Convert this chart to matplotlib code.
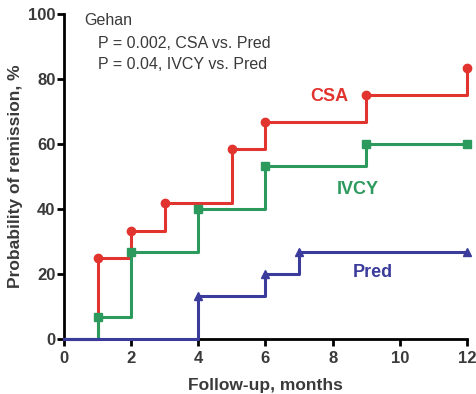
import matplotlib.pyplot as plt

# Kaplan-Meier style step data (time in months, cumulative % in remission)
csa_t = [0, 1, 2, 3, 5, 6, 9, 12]
csa_p = [0, 25.0, 33.3, 41.7, 58.3, 66.7, 75.0, 83.3]

ivcy_t = [0, 1, 2, 4, 6, 9, 12]
ivcy_p = [0, 6.7, 26.7, 40.0, 53.3, 60.0, 60.0]

pred_t = [0, 4, 6, 7, 12]
pred_p = [0, 13.3, 20.0, 26.7, 26.7]

red = '#e2342f'
green = '#2b9a5c'
blue = '#3b3b9c'

plt.rcParams['font.family'] = ['Liberation Sans', 'DejaVu Sans']

fig = plt.figure(figsize=(4.77, 3.94), dpi=100)
ax = fig.add_axes([0.134, 0.140, 0.845, 0.825])

ax.step(csa_t, csa_p, where='post', color=red, linewidth=2.2, zorder=3)
ax.plot(csa_t[1:], csa_p[1:], 'o', color=red, markersize=6, zorder=4)

ax.step(ivcy_t, ivcy_p, where='post', color=green, linewidth=2.2, zorder=3)
ax.plot(ivcy_t[1:], ivcy_p[1:], 's', color=green, markersize=6, zorder=4)

ax.step(pred_t, pred_p, where='post', color=blue, linewidth=2.2, zorder=5)
ax.plot(pred_t[1:], pred_p[1:], '^', color=blue, markersize=6, zorder=6)

ax.text(7.9, 74.5, 'CSA', color=red, fontsize=13, fontweight='bold', ha='center', va='center')
ax.text(8.75, 45.8, 'IVCY', color=green, fontsize=13, fontweight='bold', ha='center', va='center')
ax.text(9.2, 20.3, 'Pred', color=blue, fontsize=13, fontweight='bold', ha='center', va='center')

gray = '#3a3a3a'
ax.text(0.6, 98, 'Gehan', color=gray, fontsize=11.5, ha='left', va='center')
ax.text(1.0, 91, 'P = 0.002, CSA vs. Pred', color=gray, fontsize=11.5, ha='left', va='center')
ax.text(1.0, 84.5, 'P = 0.04, IVCY vs. Pred', color=gray, fontsize=11.5, ha='left', va='center')

ax.set_xlim(0, 12)
ax.set_ylim(0, 100)
ax.set_xticks(range(0, 13, 2))
ax.set_yticks(range(0, 101, 20))
ax.spines['top'].set_visible(False)
ax.spines['right'].set_visible(False)
for s in ['left', 'bottom']:
    ax.spines[s].set_linewidth(2)
ax.tick_params(width=2, length=5, colors='black', labelcolor=gray, labelsize=12)
ax.tick_params(axis='y', pad=1)
for lab in ax.get_xticklabels() + ax.get_yticklabels():
    lab.set_fontweight('bold')

ax.set_xlabel('Follow-up, months', fontsize=12.5, fontweight='bold', color=gray, labelpad=9)
ax.set_ylabel('Probability of remission, %', fontsize=12.5, fontweight='bold', color=gray, labelpad=4)

for line in ax.lines:
    line.set_clip_on(False)

fig.savefig('out.png', dpi=100)
